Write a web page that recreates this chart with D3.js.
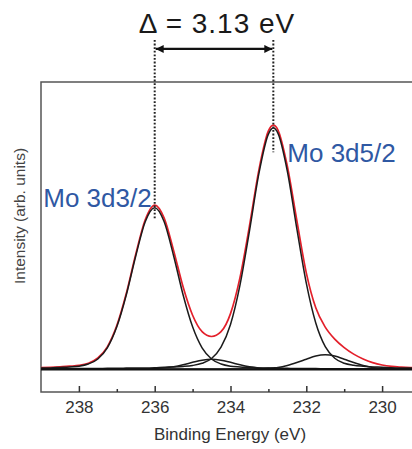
<!DOCTYPE html>
<html lang="en">
<head>
<meta charset="UTF-8">
<title>Mo 3d XPS</title>
<style>
  body { margin: 0; background: #fff; }
  svg { display: block; font-family: "Liberation Sans", Arial, sans-serif; }
</style>
</head>
<body>
<svg></svg>
<script src="https://d3js.org/d3.v7.min.js"></script>
<script>
// binding energy grid (eV)
const energy = [239, 238.75, 238.5, 238.25, 238, 237.75, 237.5, 237.25, 237, 236.75, 236.5, 236.25,
  236, 235.75, 235.5, 235.25, 235, 234.75, 234.5, 234.25, 234, 233.75, 233.5, 233.25, 233, 232.87,
  232.75, 232.5, 232.25, 232, 231.75, 231.5, 231.25, 231, 230.75, 230.5, 230.25, 230, 229.75,
  229.5, 229.25, 229];

// fitted components (arb. units, background = 0)
const mo3d32 = [0.005, 0.006, 0.008, 0.010, 0.013, 0.022, 0.043, 0.089, 0.176, 0.308, 0.470, 0.612,
  0.670, 0.612, 0.470, 0.308, 0.176, 0.089, 0.043, 0.022, 0.013, 0.010, 0.008, 0.006, 0.005, 0.005,
  0.005, 0.004, 0.003, 0.003, 0.003, 0.002, 0.002, 0.002, 0.002, 0.002, 0.002, 0.001, 0.001,
  0.001, 0.001, 0.001];
const mo3d52 = [0.002, 0.002, 0.002, 0.003, 0.003, 0.003, 0.003, 0.004, 0.004, 0.005, 0.006, 0.006,
  0.007, 0.009, 0.010, 0.012, 0.016, 0.025, 0.045, 0.092, 0.186, 0.349, 0.573, 0.812, 0.975, 1.000,
  0.979, 0.821, 0.583, 0.357, 0.192, 0.094, 0.046, 0.025, 0.017, 0.013, 0.010, 0.009, 0.007,
  0.006, 0.006, 0.005];
const minorA = [0, 0, 0, 0, 0, 0, 0, 0, 0.001, 0.001, 0.001, 0.001,
  0.003, 0.006, 0.011, 0.019, 0.029, 0.038, 0.042, 0.038, 0.029, 0.019, 0.011, 0.006, 0.003, 0.002,
  0.001, 0.001, 0.001, 0.001, 0, 0, 0, 0, 0, 0, 0, 0, 0,
  0, 0, 0];
const minorB = [0, 0, 0, 0, 0, 0, 0, 0, 0, 0, 0, 0,
  0, 0, 0, 0, 0, 0, 0, 0, 0.001, 0.001, 0.001, 0.002, 0.004, 0.006,
  0.008, 0.016, 0.028, 0.042, 0.055, 0.060, 0.055, 0.042, 0.028, 0.016, 0.008, 0.004, 0.002,
  0.001, 0.001, 0.001];
// fit envelope (red)
const envelope = [0.007, 0.008, 0.010, 0.013, 0.016, 0.025, 0.047, 0.093, 0.181, 0.314, 0.477, 0.620,
  0.681, 0.627, 0.492, 0.341, 0.224, 0.156, 0.136, 0.156, 0.231, 0.380, 0.594, 0.827, 0.988, 1.012,
  0.993, 0.842, 0.617, 0.400, 0.255, 0.175, 0.125, 0.090, 0.063, 0.043, 0.028, 0.018, 0.012,
  0.009, 0.007, 0.006];
const backgroundLevel = 0;

const majorTicks = [238, 236, 234, 232, 230];
const minorTicks = [237, 235, 233, 231];

// annotation: peak positions and labels
const peakEnergy = [236.0, 232.87];
const peakNames = ["Mo 3d3/2", "Mo 3d5/2"];
const guideBottom = [0.62, 0.90];
const splitting = "\u0394 = 3.13 eV";

const width = 412, height = 449;
const svg = d3.select("svg").attr("width", width).attr("height", height);

const x = d3.scaleLinear().domain([239, 229]).range([41, 420]);
const y = d3.scaleLinear().domain([-0.094, 1.191]).range([392, 82]);

// plot frame (right side runs off the picture)
svg.append("rect")
  .attr("x", x(239)).attr("y", y(1.191))
  .attr("width", x(229) - x(239)).attr("height", y(-0.094) - y(1.191))
  .attr("fill", "none").attr("stroke", "#555").attr("stroke-width", 1.5);

// x axis, ticks pointing inward
const gx = svg.append("g")
  .attr("transform", `translate(0,${y(-0.094)})`)
  .call(d3.axisBottom(x).tickValues(majorTicks).tickSize(-6).tickPadding(9).tickFormat(d3.format("d")))
  .attr("font-family", "Liberation Sans, Arial, sans-serif")
  .attr("font-size", 17);
gx.select(".domain").remove();
gx.selectAll("line").attr("stroke", "#333").attr("stroke-width", 1.5);
gx.selectAll("text").attr("fill", "#333");

const gm = svg.append("g")
  .attr("transform", `translate(0,${y(-0.094)})`)
  .call(d3.axisBottom(x).tickValues(minorTicks).tickSize(-3).tickFormat(""));
gm.select(".domain").remove();
gm.selectAll("line").attr("stroke", "#333").attr("stroke-width", 1.5);

svg.append("text")
  .attr("x", 230).attr("y", 440)
  .attr("text-anchor", "middle")
  .attr("font-size", 17).attr("fill", "#333")
  .text("Binding Energy (eV)");

svg.append("text")
  .attr("transform", "translate(25,216) rotate(-90)")
  .attr("text-anchor", "middle")
  .attr("font-size", 15.5).attr("fill", "#444")
  .text("Intensity (arb. units)");

// curves
const line = vals => d3.line()
  .x((d, i) => x(energy[i]))
  .y(d => y(d))
  .curve(d3.curveMonotoneX)(vals);

svg.append("path")
  .attr("d", line(envelope))
  .attr("fill", "none").attr("stroke", "#e3202b").attr("stroke-width", 1.7);

svg.selectAll(".comp")
  .data([mo3d32, mo3d52, minorA, minorB])
  .join("path")
  .attr("class", "comp")
  .attr("d", d => line(d))
  .attr("fill", "none").attr("stroke", "#1b1b1b").attr("stroke-width", 1.5);

svg.append("line")
  .attr("x1", x(239)).attr("x2", x(229))
  .attr("y1", y(backgroundLevel)).attr("y2", y(backgroundLevel))
  .attr("stroke", "#111").attr("stroke-width", 2.2);

// dotted guides
svg.selectAll(".guide")
  .data(peakEnergy)
  .join("line")
  .attr("class", "guide")
  .attr("x1", d => x(d)).attr("x2", d => x(d))
  .attr("y1", y(1.365))
  .attr("y2", (d, i) => y(guideBottom[i]))
  .attr("stroke", "#222").attr("stroke-width", 2)
  .attr("stroke-dasharray", "1.8,1.8");

// double arrow
const defs = svg.append("defs");
defs.append("marker")
  .attr("id", "head")
  .attr("viewBox", "0 0 10 10")
  .attr("refX", 10).attr("refY", 5)
  .attr("markerWidth", 10).attr("markerHeight", 8)
  .attr("markerUnits", "userSpaceOnUse")
  .attr("orient", "auto-start-reverse")
  .append("path").attr("d", "M0,0 L10,5 L0,10 Z").attr("fill", "#111");

svg.append("line")
  .attr("x1", x(peakEnergy[0]) + 1).attr("x2", x(peakEnergy[1]) - 1)
  .attr("y1", y(1.328)).attr("y2", y(1.328))
  .attr("stroke", "#111").attr("stroke-width", 2.2)
  .attr("marker-start", "url(#head)").attr("marker-end", "url(#head)");

svg.append("text")
  .attr("x", 217).attr("y", 33)
  .attr("text-anchor", "middle")
  .attr("font-size", 28).attr("letter-spacing", 1)
  .attr("fill", "#1a1a1a")
  .text(splitting);

// peak labels
svg.append("text")
  .attr("x", x(peakEnergy[0]) - 3).attr("y", y(0.673))
  .attr("text-anchor", "end")
  .attr("font-size", 26).attr("fill", "#2f58a3")
  .text(peakNames[0]);

svg.append("text")
  .attr("x", x(peakEnergy[1]) + 14).attr("y", y(0.86))
  .attr("font-size", 26).attr("fill", "#2f58a3")
  .text(peakNames[1]);
</script>
</body>
</html>
